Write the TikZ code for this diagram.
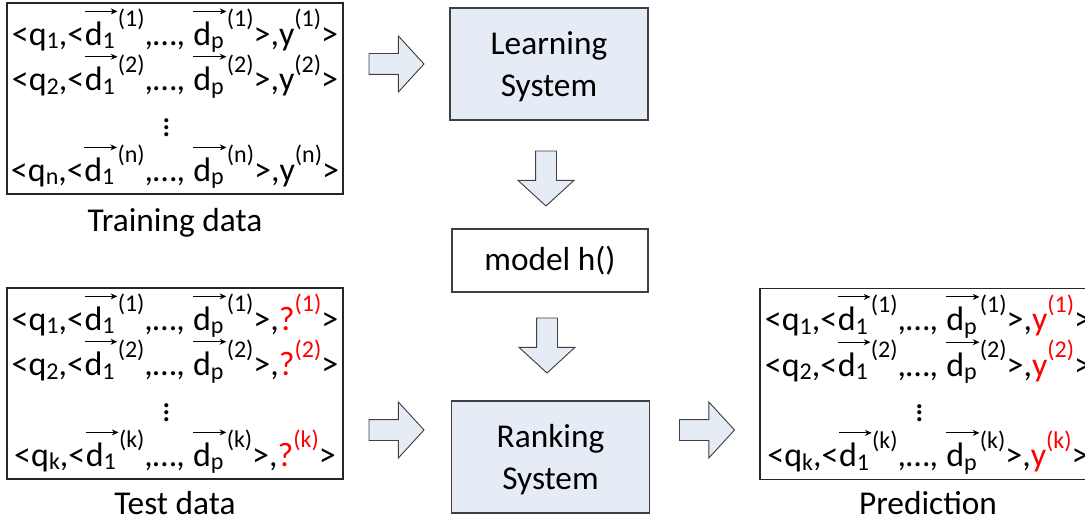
\documentclass[tikz,border=0pt]{standalone}
\usepackage{fontspec}
\setmainfont{Carlito}
\usetikzlibrary{positioning,calc,shapes.arrows,arrows.meta}
\definecolor{boxfill}{HTML}{E6ECF6}
\definecolor{edge}{HTML}{404040}
\definecolor{qred}{HTML}{FF0000}
\newcommand{\lo}[1]{\raisebox{-2.5pt}{\fontsize{18}{18}\selectfont #1}}
\newcommand{\hi}[1]{\raisebox{14pt}{\fontsize{18}{18}\selectfont #1}}
\newcommand{\dv}[2]{\tikz[baseline=(dd.base)]{\node[dbase] (dd) {d\lo{#1}};
  \draw[vecarrow] ([yshift=25.5pt]dd.base west) -- ([yshift=25.5pt,xshift=2pt]dd.base east);}\hi{(#2)}}
\newcommand{\sample}[3]{<q\lo{#1},<\dv{1}{#2},…, \dv{p}{#2}>,#3>}
\newcommand{\lbly}[1]{y\hi{(#1)}}
\newcommand{\lblq}[1]{\textcolor{qred}{?\hi{(#1)}}}
\newcommand{\lblr}[1]{\textcolor{qred}{y\hi{(#1)}}}
\newcommand{\vdotsx}{\vbox{\baselineskip5pt\lineskiplimit0pt\hbox{.}\hbox{.}\hbox{.}}\rule{13pt}{0pt}}
\tikzset{databox/.style={draw=black!85,line width=0.8pt,minimum width=252pt,
  minimum height=143.25pt,align=center,inner sep=0pt,
  font={\fontsize{25.5}{34}\selectfont\lineskiplimit=-\maxdimen}},
  dbase/.style={shape=rectangle,draw=none,fill=none,minimum width=0pt,
  minimum height=0pt,inner sep=0pt,outer sep=0pt},
  sysbox/.style={draw=edge,fill=boxfill,line width=0.8pt,minimum width=148.5pt,
  minimum height=84pt,align=center,font={\fontsize{25}{32}\selectfont}},
  modelbox/.style={draw=edge,line width=0.8pt,minimum width=147pt,
  minimum height=47.25pt,font={\fontsize{25}{30}\selectfont}},
  caption/.style={anchor=base,inner sep=0pt,font={\fontsize{25}{30}\selectfont}},
  vecarrow/.style={draw=black,line width=0.75pt,-{Stealth[length=5pt,width=4.5pt]}},
  blockarrow/.style={single arrow,draw=edge,fill=boxfill,line width=0.7pt,
  minimum height=41.25pt,inner xsep=0pt,inner ysep=7.5pt,anchor=tail,
  single arrow head extend=13.1pt,single arrow tip angle=95},
  downarrow/.style={blockarrow,rotate=-90}}

\begin{document}
\begin{tikzpicture}[x=0.75pt,y=-0.75pt]
\clip (0,0) rectangle (1085,520);
\node[databox] (trainbox) at (175,98.5) {\sample{1}{1}{\lbly{1}}\\
  \sample{2}{2}{\lbly{2}}\\ \vdotsx\\ \sample{n}{n}{\lbly{n}}};
\node[caption] (trainlbl) at ($(trainbox.south)+(0,37)$) {Training data};
\node[databox] (testbox) at (175,383.5) {\sample{1}{1}{\lblq{1}}\\
  \sample{2}{2}{\lblq{2}}\\ \vdotsx\\ \sample{k}{k}{\lblq{k}}};
\node[caption] (testlbl) at ($(testbox.south)+(0,35)$) {Test data};
\node[sysbox] (learnsys) at (549,64) {\rule{0pt}{21.5pt}Learning\\System};
\node[modelbox] (model) at (550,260.5) {model h()};
\node[sysbox] (ranksys) at (550.5,457) {\rule{0pt}{21.5pt}Ranking\\System};
\node[databox] (predbox) at (928,384) {\sample{1}{1}{\lblr{1}}\\
  \sample{2}{2}{\lblr{2}}\\ \vdotsx\\ \sample{k}{k}{\lblr{k}}};
\node[caption] (predlbl) at ($(predbox.south)+(0,34)$) {Prediction};
\node[blockarrow] (toLearn) at ($(trainbox.east |- learnsys)+(25,0)$) {};
\node[downarrow] (toModel) at ($(learnsys.south)+(-3,30)$) {};
\node[downarrow] (toRank) at ($(model.south)+(-3,25)$) {};
\node[blockarrow] (fromTest) at ($(testbox.east |- ranksys)+(25,-27)$) {};
\node[blockarrow] (toPred) at ($(ranksys.east)+(29,-27)$) {};
\end{tikzpicture}
\end{document}
